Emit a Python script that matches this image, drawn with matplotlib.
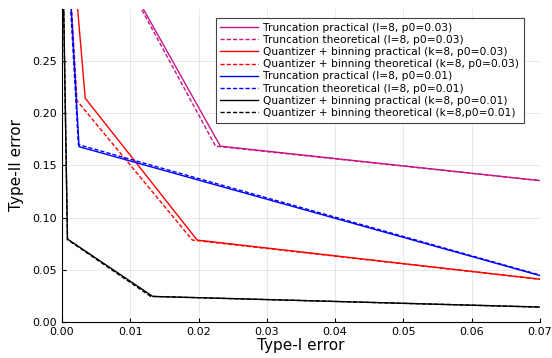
import numpy as np
import matplotlib.pyplot as plt

# Type-I / Type-II error curves
trunc_03_prac_x = [0.0016, 0.0232, 0.0700]
trunc_03_prac_y = [0.4200, 0.1685, 0.1355]
trunc_03_theo_x = [0.0017, 0.0225, 0.0700]
trunc_03_theo_y = [0.4200, 0.1685, 0.1355]

quant_03_prac_x = [0.0010, 0.0034, 0.0198, 0.0700]
quant_03_prac_y = [0.4000, 0.2145, 0.0785, 0.0410]
quant_03_theo_x = [0.0005, 0.0022, 0.0191, 0.0700]
quant_03_theo_y = [0.4000, 0.2120, 0.0785, 0.0410]

trunc_01_prac_x = [0.0005, 0.0025, 0.0700]
trunc_01_prac_y = [0.4000, 0.1680, 0.0445]
trunc_01_theo_x = [0.0004, 0.0024, 0.0700]
trunc_01_theo_y = [0.4000, 0.1700, 0.0450]

quant_01_prac_x = [0.0000, 0.0008, 0.0133, 0.0700]
quant_01_prac_y = [0.4000, 0.0795, 0.0245, 0.0143]
quant_01_theo_x = [0.0000, 0.0008, 0.0130, 0.0700]
quant_01_theo_y = [0.4000, 0.0790, 0.0245, 0.0143]

series = [
    (trunc_03_prac_x, trunc_03_prac_y, '#c71585', '-', 'Truncation practical (l=8, p0=0.03)'),
    (trunc_03_theo_x, trunc_03_theo_y, '#c71585', '--', 'Truncation theoretical (l=8, p0=0.03)'),
    (quant_03_prac_x, quant_03_prac_y, 'red', '-', 'Quantizer + binning practical (k=8, p0=0.03)'),
    (quant_03_theo_x, quant_03_theo_y, 'red', '--', 'Quantizer + binning theoretical (k=8, p0=0.03)'),
    (trunc_01_prac_x, trunc_01_prac_y, 'blue', '-', 'Truncation practical (l=8, p0=0.01)'),
    (trunc_01_theo_x, trunc_01_theo_y, 'blue', '--', 'Truncation theoretical (l=8, p0=0.01)'),
    (quant_01_prac_x, quant_01_prac_y, 'black', '-', 'Quantizer + binning practical (k=8, p0=0.01)'),
    (quant_01_theo_x, quant_01_theo_y, 'black', '--', 'Quantizer + binning theoretical (k=8,p0=0.01)'),
]

fig = plt.figure(figsize=(5.52, 3.58), dpi=100)
ax = fig.add_axes([0.1123, 0.1006, 0.8657, 0.8744])

for x, y, c, ls, lab in series:
    ax.plot(x, y, color=c, linestyle=ls, linewidth=1.0, label=lab,
            dashes=(3, 1.5) if ls == '--' else (None, None))

ax.set_xlim(0, 0.07)
ax.set_ylim(0, 0.3)
ax.set_xticks(np.arange(0, 0.071, 0.01))
ax.set_yticks(np.arange(0, 0.251, 0.05))
ax.xaxis.set_major_formatter(plt.FormatStrFormatter('%.2f'))
ax.yaxis.set_major_formatter(plt.FormatStrFormatter('%.2f'))
ax.grid(True, color='black', alpha=0.1, linewidth=0.6)
ax.spines['top'].set_visible(False)
ax.spines['right'].set_visible(False)
ax.tick_params(direction='in', length=3, labelsize=8, width=0.8)
ax.set_xlabel('Type-I error', fontsize=11, labelpad=1)
ax.set_ylabel('Type-II error', fontsize=11, labelpad=6)

leg = ax.legend(loc='upper right', bbox_to_anchor=(0.9665, 0.971), fontsize=7.7,
                frameon=True, fancybox=False, edgecolor='#444444', framealpha=1,
                handlelength=3.5, handletextpad=0.5, labelspacing=0.2,
                borderpad=0.45, borderaxespad=0.0)
leg.get_frame().set_linewidth(0.8)

fig.savefig('out.png', dpi=100)
